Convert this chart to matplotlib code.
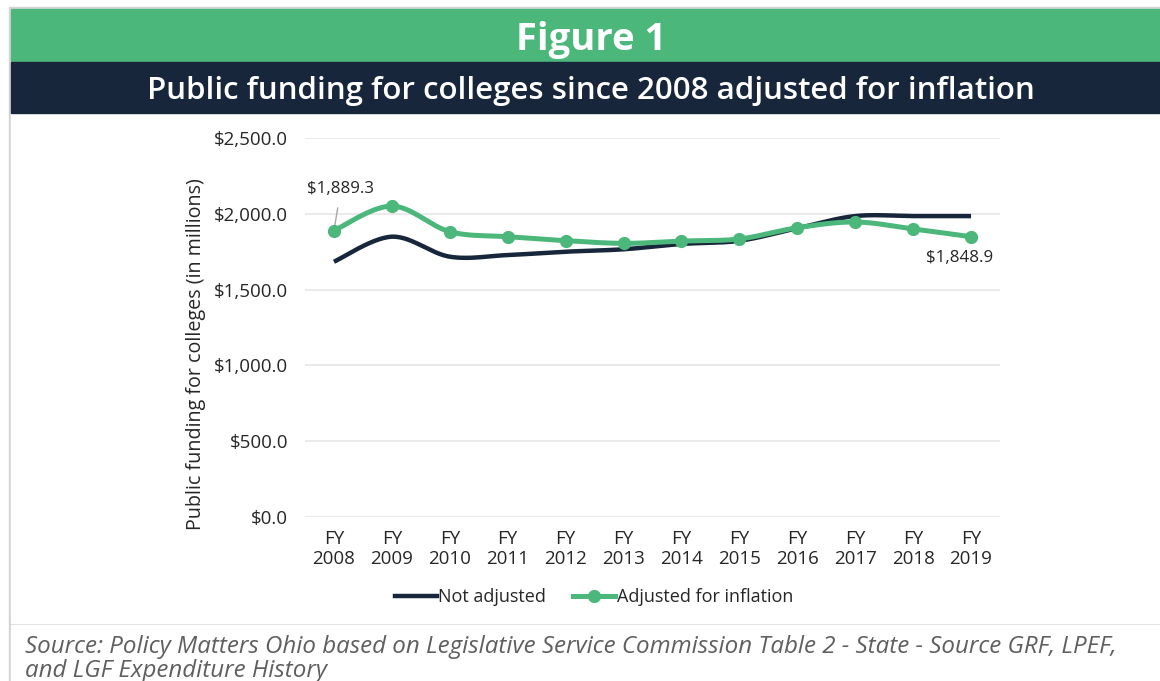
import numpy as np
import matplotlib
matplotlib.use("Agg")
from matplotlib import pyplot as plt
from matplotlib.patches import Rectangle
from matplotlib.lines import Line2D

# data
years = ["2008", "2009", "2010", "2011", "2012", "2013",
         "2014", "2015", "2016", "2017", "2018", "2019"]
not_adjusted = [1684, 1849, 1717, 1728, 1750, 1766,
                1801, 1822, 1905, 1985, 1985, 1985]
adjusted = [1889.3, 2051, 1882, 1849, 1823, 1805,
            1820, 1834, 1908, 1946, 1900, 1848.9]

NAVY = "#17263a"
GREEN = "#4cb77b"
BORDER = "#d3d3d3"
TXT = "#262626"

plt.rcParams['font.family'] = ['Open Sans', 'DejaVu Sans']


def smooth(x, y, n=30):
    # catmull-rom style smoothing like the spreadsheet "smoothed line"
    x = np.asarray(x, float)
    y = np.asarray(y, float)
    px = np.concatenate([[x[0]], x, [x[-1]]])
    py = np.concatenate([[y[0]], y, [y[-1]]])
    xs, ys = [], []
    t = np.linspace(0, 1, n)
    for i in range(1, len(px) - 2):
        p0 = np.array([px[i], py[i]])
        p3 = np.array([px[i + 1], py[i + 1]])
        c1 = p0 + (np.array([px[i + 1], py[i + 1]]) - np.array([px[i - 1], py[i - 1]])) / 6
        c2 = p3 - (np.array([px[i + 2], py[i + 2]]) - np.array([px[i], py[i]])) / 6
        b = ((1 - t) ** 3)[:, None] * p0 + (3 * (1 - t) ** 2 * t)[:, None] * c1 \
            + (3 * (1 - t) * t ** 2)[:, None] * c2 + (t ** 3)[:, None] * p3
        xs.append(b[:, 0])
        ys.append(b[:, 1])
    return np.concatenate(xs), np.concatenate(ys)


fig = plt.figure(figsize=(11.6, 6.81), dpi=100)
W, H = 1160, 681


def box(x0, y0, x1, y1, color):
    fig.patches.append(Rectangle((x0 / W, 1 - y1 / H), (x1 - x0) / W, (y1 - y0) / H,
                                 transform=fig.transFigure, color=color, zorder=-5))


# frame and header bands
box(9, 7, 1160, 681, BORDER)
box(11, 9, 1160, 623, "white")
box(11, 9, 1160, 61, GREEN)
box(11, 62, 1160, 113, NAVY)
box(11, 625, 1160, 681, "white")

fig.text(591 / W, 1 - 40 / H, "Figure 1", color="white", fontsize=27.5,
         fontweight="bold", ha="center", va="center")
fig.text(591 / W, 1 - 91 / H, "Public funding for colleges since 2008 adjusted for inflation",
         color="white", fontsize=22.5, fontweight="semibold", ha="center", va="center")

ax = fig.add_axes([305 / W, 1 - 517 / H, 695 / W, 379 / H])
ax.set_facecolor("none")
x = np.arange(len(years))

sx, sy = smooth(x, not_adjusted)
ax.plot(sx, sy, color=NAVY, lw=3.2, solid_capstyle="butt", zorder=3)
sx, sy = smooth(x, adjusted)
ax.plot(sx, sy, color=GREEN, lw=3.6, solid_capstyle="butt", zorder=4)
ax.plot(x, adjusted, 'o', color=GREEN, markersize=8.5, zorder=5)

ax.set_xlim(-0.5, 11.5)
ax.set_ylim(0, 2500)
ax.set_yticks(np.arange(0, 2501, 500))
ax.set_yticklabels(["${:,.1f}".format(v) for v in np.arange(0, 2501, 500)])
ax.set_xticks(x)
ax.set_xticklabels(["FY\n" + y for y in years], linespacing=1.15)
ax.grid(axis="y", color="#e6e6e6", lw=1.2)
ax.set_axisbelow(True)
for s in ax.spines.values():
    s.set_visible(False)
ax.tick_params(length=0, labelsize=13.5, colors=TXT, pad=9)
ax.tick_params(axis="y", pad=12)
ax.set_ylabel("Public funding for colleges (in millions)", fontsize=14.2, color=TXT)
ax.yaxis.set_label_coords(-0.142, 0.431)

ax.annotate("${:,.1f}".format(adjusted[0]), xy=(0, adjusted[0]), xytext=(5, 30),
            textcoords="offset points", ha="center", va="center", fontsize=12.2,
            color=TXT,
            arrowprops=dict(arrowstyle="-", color="#a6a6a6", lw=1, shrinkA=6, shrinkB=3))
ax.annotate("${:,.1f}".format(adjusted[-1]), xy=(11, adjusted[-1]), xytext=(-8, -15),
            textcoords="offset points", ha="center", va="center", fontsize=12.2,
            color=TXT,
            arrowprops=dict(arrowstyle="-", color="#a6a6a6", lw=1, shrinkA=7, shrinkB=3))

handles = [Line2D([], [], color=NAVY, lw=3.2),
           Line2D([], [], color=GREEN, lw=3.6, marker='o', markersize=8.5)]
fig.legend(handles, ["Not adjusted", "Adjusted for inflation"], loc="center",
           bbox_to_anchor=(594 / W, 1 - 597 / H), ncol=2, frameon=False,
           fontsize=13, handlelength=2.3, handletextpad=0.1, columnspacing=1.5,
           labelcolor=TXT)

fig.text(25 / W, 1 - 647 / H,
         "Source: Policy Matters Ohio based on Legislative Service Commission Table 2 - State - Source GRF, LPEF,",
         fontsize=17.4, style="italic", color="#5f5f5f", va="center")
fig.text(25 / W, 1 - 671 / H, "and LGF Expenditure History",
         fontsize=17.4, style="italic", color="#5f5f5f", va="center")

fig.savefig("out.png", dpi=100)
